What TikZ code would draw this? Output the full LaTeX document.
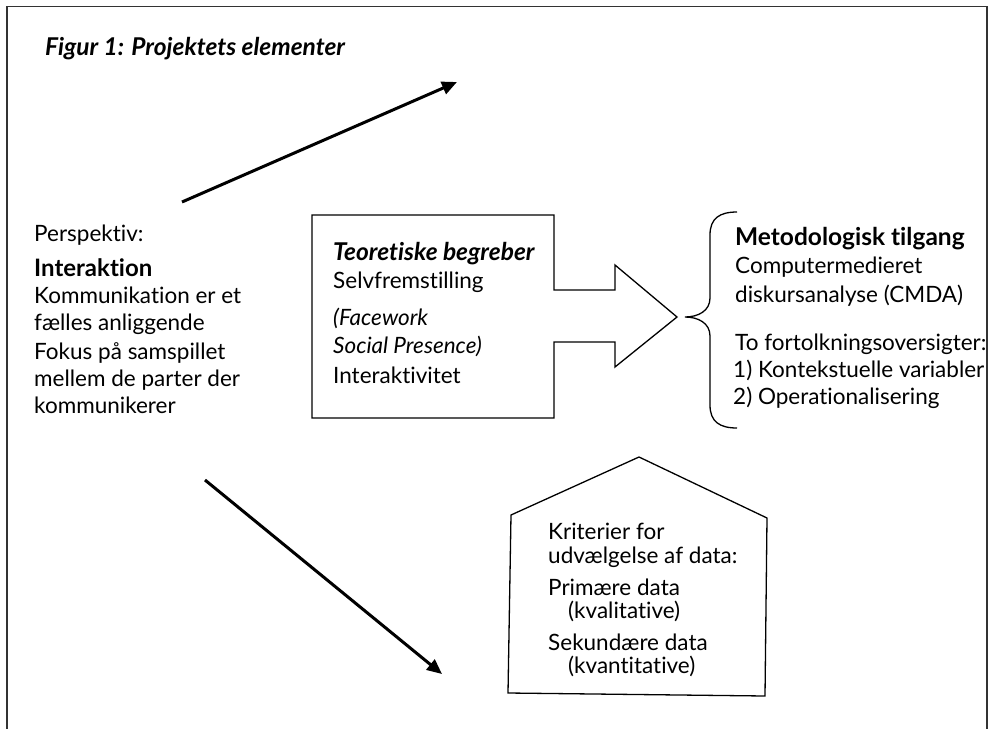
\documentclass[tikz,border=0pt]{standalone}
\usepackage{fontspec}
\setmainfont[Ligatures=NoCommon]{Lato}
\usetikzlibrary{arrows.meta}
\tikzset{
  txt/.style={anchor=base west, inner sep=0pt, font=\fontsize{22.5}{27}\selectfont},
  btxt/.style={txt, font=\fontsize{24.5}{27}\selectfont\bfseries},
  bitxt/.style={txt, font=\fontsize{24.5}{27}\selectfont\bfseries\itshape},
  itxt/.style={txt, font=\fontsize{22.5}{27}\selectfont\itshape},
  outline/.style={draw=black, line width=1.3pt, line join=miter},
  bigarrow/.style={line width=3pt, -{Triangle[length=15pt,width=13pt]}},
}
\begin{document}
\begin{tikzpicture}[x=1pt,y=-1pt]
\useasboundingbox (0,0) rectangle (990,728);
% frame
\draw[line width=1.3pt, black!80] (7,732) -- (7,6.5) -- (987,6.5) -- (987,732);
% title
\node[bitxt] (title) at (45,55) {Figur 1: Projektets elementer};
% arrows
\coordinate (a1s) at (182,202);
\coordinate (a1e) at (457,82);
\draw[bigarrow] (a1s) -- (a1e);
\coordinate (a2s) at (205,480);
\coordinate (a2e) at (442,674);
\draw[bigarrow] (a2s) -- (a2e);
% left text
\node[txt] (l1) at (34,241.7) {Perspektiv:};
\node[btxt, font=\fontsize{24}{27}\selectfont\bfseries] (l2) at (34,276.7) {Interaktion};
\node[txt] (l3) at (34,303.3) {Kommunikation er et};
\node[txt] (l4) at (34,330) {fælles anliggende};
\node[txt] (l5) at (34,359.3) {Fokus på samspillet};
\node[txt] (l6) at (34,386) {mellem de parter der};
\node[txt] (l7) at (34,413.3) {kommunikerer};
% center arrow box
\draw[outline] (312,215) -- (554,215) -- (554,290) -- (615,290) -- (615,265) -- (677,317)
  -- (615,367) -- (615,342) -- (554,342) -- (554,418) -- (312,418) -- cycle;
\node[bitxt] (c1) at (333,260) {Teoretiske begreber};
\node[txt] (c2) at (333,288) {Selvfremstilling};
\node[itxt] (c3) at (333,325) {(Facework};
\node[itxt] (c4) at (333,353) {Social Presence)};
\node[txt] (c5) at (333,383) {Interaktivitet};
% brace
\draw[line width=1.3pt] (737,212) .. controls (720,212) and (710,218) .. (710,235) -- (710,298)
  .. controls (710,311) and (698,317) .. (685,317)
  .. controls (698,317) and (710,323) .. (710,336) -- (710,405)
  .. controls (710,422) and (720,428) .. (737,428);
% right text
\node[btxt] (r1) at (735,245) {Metodologisk tilgang};
\node[txt] (r2) at (735,273) {Computermedieret};
\node[txt] (r3) at (735,302) {diskursanalyse (CMDA)};
\node[txt] (r4) at (735,350) {To fortolkningsoversigter:};
\node[txt] (r5) at (733,377) {1) Kontekstuelle variabler};
\node[txt] (r6) at (733,404) {2) Operationalisering};
% house
\draw[outline] (639,457) -- (767,518) -- (765,696) -- (508,693) -- (511,515) -- cycle;
\node[txt] (h1) at (548,539) {Kriterier for};
\node[txt] (h2) at (548,563) {udvælgelse af data:};
\node[txt] (h3) at (548,595) {Primære data};
\node[txt] (h4) at (568,618) {(kvalitative)};
\node[txt] (h5) at (548,650) {Sekundære data};
\node[txt] (h6) at (568,673) {(kvantitative)};
\end{tikzpicture}
\end{document}
